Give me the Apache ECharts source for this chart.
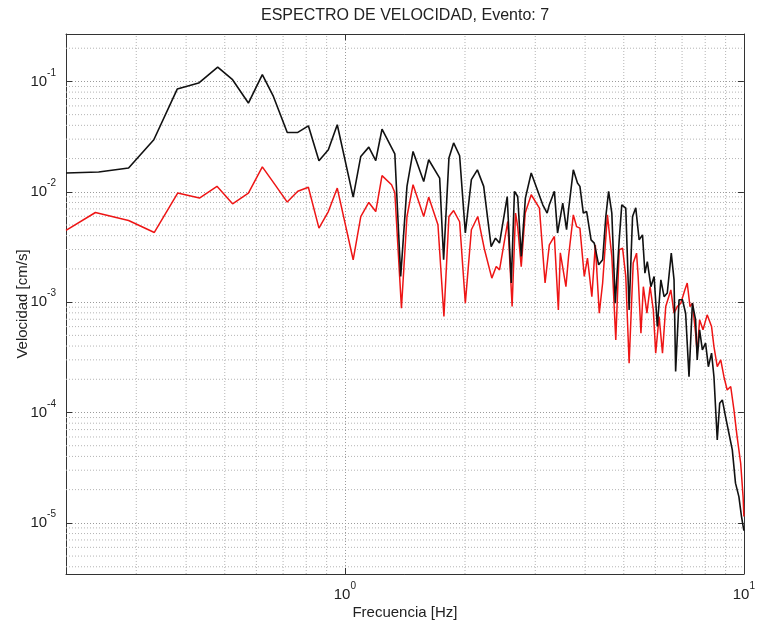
<!DOCTYPE html>
<html>
<head>
<meta charset="utf-8">
<script src="https://cdn.jsdelivr.net/npm/echarts@6/dist/echarts.min.js"></script>
<style>
html,body{margin:0;padding:0;background:#fff;}
#chart{width:758px;height:626px;}
</style>
</head>
<body>
<div id="chart"></div>
<script>
// ---- Data ----
const blackFreq = [0.2,0.2415,0.287,0.332,0.380,0.430,0.480,0.523,0.573,0.621,0.662,0.717,0.762,0.810,0.861,0.909,0.957,1.049,1.096,1.148,1.195,1.239,1.334,1.380,1.431,1.482,1.576,1.622,1.728,1.768,1.823,1.873,1.939,2.004,2.075,2.148,2.228,2.326,2.385,2.441,2.552,2.612,2.661,2.711,2.767,2.834,2.931,3.133,3.213,3.254,3.350,3.412,3.516,3.594,3.636,3.737,3.828,3.882,3.959,4.036,4.140,4.217,4.325,4.426,4.508,4.581,4.667,4.760,4.870,4.943,5.058,5.157,5.260,5.358,5.464,5.571,5.649,5.728,5.848,5.957,6.068,6.194,6.310,6.427,6.577,6.683,6.745,6.879,7.015,7.145,7.286,7.430,7.568,7.638,7.745,7.870,8.017,8.147,8.299,8.414,8.576,8.697,8.831,8.995,9.173,9.354,9.528,9.716,9.864,10.0];
const blackVel = [0.0148,0.0151,0.0164,0.0296,0.0853,0.0967,0.135,0.1036,0.0637,0.115,0.0731,0.0345,0.0345,0.0396,0.0191,0.0240,0.0405,0.00895,0.0209,0.0254,0.0192,0.0370,0.0221,0.00171,0.0112,0.0232,0.0124,0.0195,0.0133,0.00242,0.0202,0.0277,0.0212,0.00423,0.0129,0.0158,0.0112,0.00319,0.00380,0.00343,0.00906,0.00149,0.0101,0.00906,0.00259,0.00877,0.0148,0.00762,0.00641,0.00762,0.0101,0.00423,0.00791,0.00453,0.00687,0.0158,0.0120,0.0112,0.00641,0.00662,0.00367,0.00343,0.00218,0.00242,0.00597,0.0101,0.00641,0.00098,0.00367,0.00762,0.00711,0.000851,0.00597,0.00716,0.00367,0.00407,0.00183,0.00233,0.00138,0.00171,0.000601,0.00159,0.00112,0.00121,0.00278,0.00159,0.000235,0.00105,0.00105,0.000794,0.000211,0.00098,0.000692,0.0003,0.000561,0.00037,0.000425,0.00026,0.000345,0.000211,0.0000565,0.000121,0.00013,0.0000918,0.0000649,0.0000458,0.0000229,0.0000173,0.0000114,0.0000085];

const redFreq = [0.2,0.237,0.287,0.333,0.381,0.432,0.478,0.523,0.573,0.621,0.668,0.717,0.762,0.810,0.861,0.909,0.957,1.049,1.096,1.148,1.195,1.239,1.309,1.334,1.386,1.431,1.482,1.576,1.622,1.711,1.771,1.823,1.873,1.939,2.004,2.075,2.153,2.239,2.335,2.395,2.441,2.560,2.625,2.677,2.711,2.767,2.831,2.931,3.073,3.175,3.254,3.350,3.428,3.467,3.581,3.636,3.737,3.808,3.882,3.981,4.055,4.159,4.243,4.341,4.426,4.550,4.667,4.775,4.870,4.966,5.058,5.157,5.280,5.383,5.433,5.521,5.598,5.715,5.821,5.929,6.012,6.131,6.252,6.370,6.561,6.683,6.808,6.950,7.112,7.211,7.328,7.430,7.568,7.638,7.745,7.898,8.091,8.299,8.414,8.576,8.750,8.913,9.081,9.268,9.441,9.616,9.817,9.954,10.0];
const redVel = [0.00446,0.00649,0.00549,0.00428,0.00973,0.00877,0.0112,0.00778,0.00973,0.0168,0.0116,0.00807,0.0101,0.0110,0.00469,0.00662,0.0108,0.00242,0.00597,0.0080,0.00662,0.0140,0.0116,0.00986,0.000883,0.00597,0.0116,0.00597,0.00895,0.00502,0.00074,0.00597,0.00676,0.00535,0.00098,0.00453,0.00597,0.00298,0.00165,0.0021,0.00196,0.00538,0.000912,0.00641,0.00484,0.0021,0.00641,0.0094,0.00711,0.00149,0.0033,0.00394,0.000851,0.0028,0.00138,0.00259,0.00618,0.00484,0.00469,0.00171,0.00251,0.00112,0.0033,0.000794,0.00149,0.00618,0.00259,0.000455,0.00298,0.00309,0.00171,0.00028,0.00226,0.00278,0.00171,0.000524,0.00138,0.000794,0.00138,0.000851,0.000345,0.00074,0.000345,0.000912,0.00129,0.000794,0.000912,0.00098,0.00129,0.00149,0.000912,0.00098,0.000524,0.000345,0.000692,0.000561,0.000767,0.000601,0.000395,0.00026,0.0003,0.000211,0.00016,0.000172,0.000106,0.0000605,0.0000347,0.0000173,0.0000114];

// axis ranges and minor grid values (tick values)
const xRange = [0.2, 10];
const yRange = [3.44e-6, 0.269];
const minorX = [0.3,0.4,0.5,0.6,0.7,0.8,0.9,2,3,4,5,6,7,8,9];
const minorY = [4e-6,5e-6,6e-6,7e-6,8e-6,9e-6,
  2e-5,3e-5,4e-5,5e-5,6e-5,7e-5,8e-5,9e-5,
  2e-4,3e-4,4e-4,5e-4,6e-4,7e-4,8e-4,9e-4,
  2e-3,3e-3,4e-3,5e-3,6e-3,7e-3,8e-3,9e-3,
  2e-2,3e-2,4e-2,5e-2,6e-2,7e-2,8e-2,9e-2,
  2e-1];

const titleText = 'ESPECTRO DE VELOCIDAD, Evento: 7';
const xName = 'Frecuencia [Hz]';
const yName = 'Velocidad [cm/s]';

// ---- Chart ----
const FONT = '"Liberation Sans", Arial, Helvetica, sans-serif';
const chart = echarts.init(document.getElementById('chart'), null, {renderer: 'canvas'});

function powLabel(v) {
  const l = Math.log10(v);
  const e = Math.round(l);
  if (Math.abs(l - e) > 1e-6) return '';
  return '{b|10}{s|' + e + '}';
}
const richLbl = {
  b: {fontSize: 15, fontFamily: FONT, color: '#222', verticalAlign: 'bottom', padding: [7, 0, 7, 0]},
  s: {fontSize: 10, fontFamily: FONT, color: '#222', verticalAlign: 'top', padding: [1, 0, 0, 0]}
};
const gridDot = {type: [1, 2], color: '#9a9a9a', width: 1};
const minorDot = {type: [1, 2], color: '#b4b4b4', width: 1};
const axisLineStyle = {show: true, lineStyle: {color: '#333', width: 1}};
const tickStyle = {show: true, inside: true, length: 6, lineStyle: {color: '#333'}};

const pairs = (fs, vs) => fs.map((f, i) => [f, vs[i]]);

// minor grid lines drawn as two-point line series through the axes
const minorSeries = [];
minorX.forEach(v => minorSeries.push({
  type: 'line', data: [[v, yRange[0]], [v, yRange[1]]], z: 1, silent: true,
  symbol: 'none', lineStyle: minorDot, emphasis: {disabled: true}, tooltip: {show: false}
}));
minorY.forEach(v => minorSeries.push({
  type: 'line', data: [[xRange[0], v], [xRange[1], v]], z: 1, silent: true,
  symbol: 'none', lineStyle: minorDot, emphasis: {disabled: true}, tooltip: {show: false}
}));

const option = {
  animation: false,
  backgroundColor: '#fff',
  title: {
    text: titleText, left: 256, top: 3,
    textStyle: {fontSize: 16, fontWeight: 'normal', color: '#222', fontFamily: FONT}
  },
  grid: {left: 66, right: 12, top: 34, bottom: 52, containLabel: false},
  xAxis: [{
    type: 'log', min: xRange[0], max: xRange[1], logBase: 10,
    name: xName, nameLocation: 'middle', nameGap: 31, nameMoveOverlap: false,
    nameTextStyle: {fontSize: 15, color: '#222', fontFamily: FONT},
    axisLine: axisLineStyle, axisTick: tickStyle,
    axisLabel: {formatter: powLabel, rich: richLbl, margin: 6, showMinLabel: false},
    splitLine: {show: true, lineStyle: gridDot}
  }, {
    type: 'log', min: xRange[0], max: xRange[1], logBase: 10, position: 'top',
    axisLine: axisLineStyle, axisTick: tickStyle,
    axisLabel: {show: false}, splitLine: {show: false}
  }],
  yAxis: [{
    type: 'log', min: yRange[0], max: yRange[1], logBase: 10,
    name: yName, nameLocation: 'middle', nameGap: 36, nameMoveOverlap: false,
    nameTextStyle: {fontSize: 15, color: '#222', fontFamily: FONT},
    axisLine: axisLineStyle, axisTick: tickStyle,
    axisLabel: {formatter: powLabel, rich: richLbl, margin: 10, showMinLabel: false, showMaxLabel: false},
    splitLine: {show: true, lineStyle: gridDot}
  }, {
    type: 'log', min: yRange[0], max: yRange[1], logBase: 10, position: 'right',
    axisLine: axisLineStyle, axisTick: tickStyle,
    axisLabel: {show: false}, splitLine: {show: false}
  }],
  series: minorSeries.concat([
    {
      name: 'red', type: 'line', data: pairs(redFreq, redVel), z: 3,
      showSymbol: false, symbol: 'none', smooth: false,
      lineStyle: {color: '#ee1515', width: 1.5}, itemStyle: {color: '#ee1515'}
    },
    {
      name: 'black', type: 'line', data: pairs(blackFreq, blackVel), z: 4,
      showSymbol: false, symbol: 'none', smooth: false,
      lineStyle: {color: '#111', width: 1.6}, itemStyle: {color: '#111'}
    }
  ])
};
chart.setOption(option);
</script>
</body>
</html>
